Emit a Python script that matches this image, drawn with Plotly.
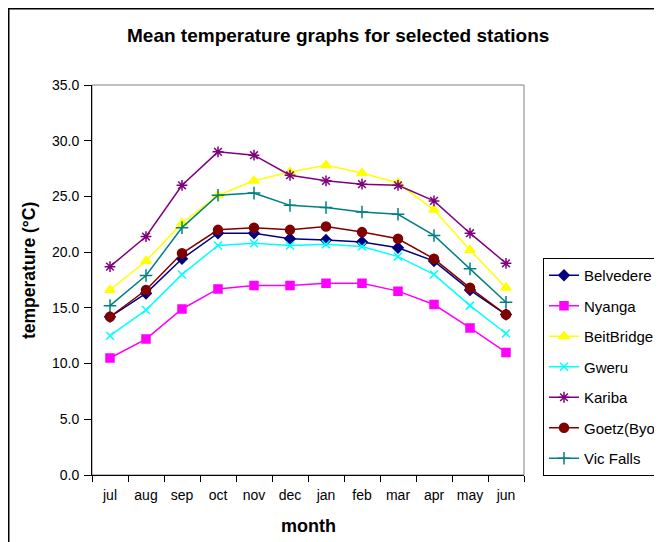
import plotly.graph_objects as go

months = ["jul", "aug", "sep", "oct", "nov", "dec", "jan", "feb", "mar", "apr", "may", "jun"]

belvedere = [14.2, 16.3, 19.4, 21.7, 21.7, 21.2, 21.1, 20.9, 20.4, 19.2, 16.6, 14.4]
nyanga = [10.5, 12.2, 14.9, 16.7, 17.0, 17.0, 17.2, 17.2, 16.5, 15.3, 13.2, 11.0]
beitbridge = [16.6, 19.2, 22.6, 25.1, 26.4, 27.2, 27.8, 27.1, 26.2, 23.8, 20.2, 16.8]
gweru = [12.5, 14.8, 18.0, 20.6, 20.8, 20.6, 20.7, 20.5, 19.6, 18.0, 15.2, 12.7]
kariba = [18.7, 21.4, 26.0, 29.0, 28.7, 26.9, 26.4, 26.1, 26.0, 24.6, 21.7, 19.0]
goetz = [14.2, 16.6, 19.9, 22.0, 22.2, 22.0, 22.3, 21.8, 21.2, 19.4, 16.8, 14.4]
vicfalls = [15.2, 17.9, 22.2, 25.1, 25.3, 24.2, 24.0, 23.6, 23.4, 21.5, 18.5, 15.5]

series = [
    ("Belvedere", belvedere, "#000080", "diamond", 8),
    ("Nyanga", nyanga, "#FF00FF", "square", 8),
    ("BeitBridge", beitbridge, "#FFFF00", "triangle-up", 9),
    ("Gweru", gweru, "#00FFFF", "x-thin", 8),
    ("Kariba", kariba, "#800080", "asterisk", 9),
    ("Goetz(Byo)", goetz, "#800000", "circle", 9),
    ("Vic Falls", vicfalls, "#008080", "cross-thin", 9),
]

FONT = "Liberation Sans, Arial, sans-serif"

fig = go.Figure()
for i, (name, vals, color, sym, size) in enumerate(series):
    fig.add_trace(go.Scatter(
        x=months, y=vals, name=name, mode="lines+markers",
        legendgroup=f"g{i}",
        line=dict(color=color, width=1.5),
        marker=dict(symbol=sym, size=size, color=color,
                    line=dict(color=color, width=1.5)),
    ))

# page has an 8px body margin: figure origin sits at page (8, 8)
OFF = 8
W, H = 662 - OFF, 542 - OFF
L, R, T, B = 92 - OFF, 524 - OFF, 85 - OFF, 475 - OFF
pw, ph = R - L, B - T

def px(x):  # page x -> paper
    return (x - OFF - L) / pw

def py(y):  # page y -> paper
    return (B - (y - OFF)) / ph

fig.update_layout(
    width=W, height=H,
    margin=dict(l=L, r=W - R, t=T, b=H - B, autoexpand=False),
    paper_bgcolor="white", plot_bgcolor="white",
    font=dict(family=FONT, size=13, color="black"),
    showlegend=True,
    legend=dict(
        x=px(543), y=py(258), xanchor="left", yanchor="top",
        bordercolor="black", borderwidth=1, bgcolor="white",
        font=dict(family=FONT, size=15, color="black"),
        tracegroupgap=8, itemwidth=30, traceorder="grouped",
    ),
    xaxis=dict(
        type="category", range=[-0.5, 11.5], tickson="boundaries",
        ticks="outside", ticklen=6, tickcolor="black", showgrid=False,
        showline=True, linecolor="black", linewidth=1, zeroline=False,
        ticklabelstandoff=7,
        tickfont=dict(family=FONT, size=14, color="black"),
    ),
    yaxis=dict(
        range=[0, 35], dtick=5, tickformat=".1f",
        ticks="outside", ticklen=7, tickcolor="black", showgrid=False,
        showline=True, linecolor="black", linewidth=1, zeroline=False,
        tickfont=dict(family=FONT, size=14, color="black"),
        ticklabelstandoff=2,
    ),
    shapes=[
        # gray plot-area border (top/right)
        dict(type="rect", xref="paper", yref="paper", x0=0, y0=0, x1=1, y1=1,
             line=dict(color="#808080", width=1), layer="below"),
        # outer chart frame (cropped at right/bottom)
        dict(type="rect", xref="paper", yref="paper",
             x0=px(8.75), y0=py(800), x1=px(900), y1=py(8.75),
             line=dict(color="black", width=1.5)),
    ],
    annotations=[
        dict(text="<b>Mean temperature graphs for selected stations</b>",
             xref="paper", yref="paper", x=px(338), y=py(35),
             xanchor="center", yanchor="middle", showarrow=False,
             font=dict(family=FONT, size=19, color="black")),
        dict(text="<b>month</b>", xref="paper", yref="paper",
             x=px(308), y=py(526), xanchor="center", yanchor="middle",
             showarrow=False, font=dict(family=FONT, size=18, color="black")),
        dict(text="<b>temperature (°C)</b>", xref="paper", yref="paper",
             x=px(29), y=py(270), xanchor="center", yanchor="middle",
             textangle=-90, showarrow=False,
             font=dict(family=FONT, size=17.5, color="black")),
    ],
)

fig.write_html("out.html")
